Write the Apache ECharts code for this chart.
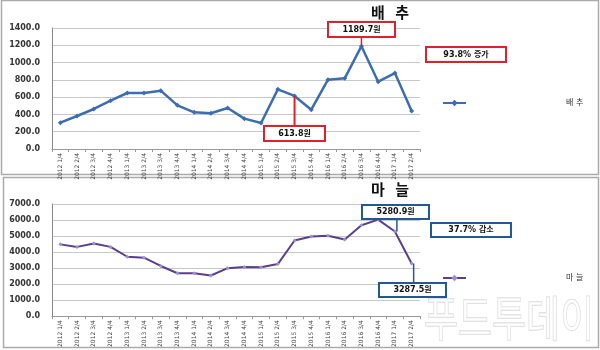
<!DOCTYPE html>
<html><head><meta charset="utf-8">
<script src="https://cdn.jsdelivr.net/npm/echarts@6/dist/echarts.min.js"></script>
<style>html,body{margin:0;padding:0;background:#fff}#c{width:600px;height:350px}</style>
</head><body><div id="c"></div>
<script>
const categories = ['2012 1/4','2012 2/4','2012 3/4','2012 4/4','2013 1/4','2013 2/4','2013 3/4','2013 4/4','2014 1/4','2014 2/4','2014 3/4','2014 4/4','2015 1/4','2015 2/4','2015 3/4','2015 4/4','2016 1/4','2016 2/4','2016 3/4','2016 4/4','2017 1/4','2017 2/4'];
const cabbage = [305,382,463,559,648,648,675,505,424,413,474,351,301,690,613.8,455,802,818,1189.7,779,879,440];
const garlic = [4481,4323,4541,4323,3708,3649,3133,2677,2677,2538,2994,3073,3054,3252,4720,4977,5017,4779,5671,6028,5280.9,3287.5];
const cabbageTicks = {min:0,max:1400,interval:200};
const garlicTicks = {min:0,max:7000,interval:1000};

const chart = echarts.init(document.getElementById('c'));
const FONT = '"DejaVu Sans", "Noto Sans CJK KR", sans-serif';
function xAxis(i){return {type:'category',gridIndex:i,data:categories,boundaryGap:true,
  axisLine:{lineStyle:{color:'#999',width:1}},axisTick:{show:true,lineStyle:{color:'#999'},length:3},
  axisLabel:{rotate:90,fontSize:6,color:'#444',fontFamily:FONT,margin:4,interval:0}};}
function yAxis(i,t){return {type:'value',gridIndex:i,min:t.min,max:t.max,interval:t.interval,
  axisLine:{show:true,lineStyle:{color:'#888'}},axisTick:{show:false},
  splitLine:{lineStyle:{color:'#c8c8c8',width:1.2}},
  axisLabel:{formatter:v=>v.toFixed(1),fontSize:8,fontWeight:'bold',color:'#333',fontFamily:FONT,margin:12}};}
chart.setOption({
  animation:false,
  textStyle:{fontFamily:FONT},
  grid:[{left:52,right:180,top:28,height:121},{left:52,right:180,top:204,height:118}],
  xAxis:[xAxis(0),xAxis(1)],
  yAxis:[yAxis(0,cabbageTicks),yAxis(1,garlicTicks)],
  legend:[
    {data:['배 추'],left:437,top:94,itemWidth:23,itemHeight:8,
     textStyle:{fontSize:8,color:'#333',padding:[0,0,0,95]}},
    {data:['마 늘'],left:437,top:269,itemWidth:23,itemHeight:8,
     textStyle:{fontSize:8,color:'#333',padding:[0,0,0,95]}}],
  series:[
    {name:'배 추',type:'line',xAxisIndex:0,yAxisIndex:0,data:cabbage,symbol:'diamond',symbolSize:5,
     lineStyle:{color:'#3d6db0',width:2.5},itemStyle:{color:'#3d6db0'}},
    {name:'마 늘',type:'line',xAxisIndex:1,yAxisIndex:1,data:garlic,symbol:'diamond',symbolSize:4,
     lineStyle:{color:'#5a3f8e',width:2},itemStyle:{color:'#9c8fd2'}}
  ]
});
function px(g,i,v){return chart.convertToPixel({gridIndex:g},[i,v]);}
const p1 = px(0,18,cabbage[18]), p2 = px(0,14,cabbage[14]);
const p3 = px(1,20,garlic[20]), p4 = px(1,21,garlic[21]);
function box(x,y,w,h,txt,col){return [{type:'rect',shape:{x,y,width:w,height:h},style:{fill:'#fff',stroke:col,lineWidth:2},z:10},
  {type:'text',x:x+w/2,y:y+h/2,style:{text:txt,fill:'#111',font:'bold 8px '+FONT,align:'center',verticalAlign:'middle'},z:11}];}
const RED='#e0202a', BLUE='#1f5a94';
chart.setOption({graphic:[
  {type:'rect',shape:{x:1.5,y:0.5,width:597,height:174},style:{fill:'none',stroke:'#aaa',lineWidth:1.5},z:0},
  {type:'rect',shape:{x:3.5,y:177.5,width:595,height:170},style:{fill:'none',stroke:'#aaa',lineWidth:1.5},z:0},
  {type:'text',x:390,y:14,style:{text:'배  추',fill:'#111',font:'bold 15px '+FONT,align:'center',verticalAlign:'middle'}},
  {type:'text',x:390,y:191,style:{text:'마  늘',fill:'#111',font:'bold 15px '+FONT,align:'center',verticalAlign:'middle'}},
  {type:'line',shape:{x1:p1[0],y1:37,x2:p1[0],y2:p1[1]},style:{stroke:RED,lineWidth:1.5},z:9},
  {type:'line',shape:{x1:p2[0],y1:p2[1],x2:p2[0],y2:126},style:{stroke:RED,lineWidth:2},z:9},
  {type:'line',shape:{x1:p3[0]+2,y1:219,x2:p3[0]+2,y2:p3[1]},style:{stroke:BLUE,lineWidth:1.5},z:9},
  {type:'line',shape:{x1:p4[0]+2,y1:p4[1],x2:p4[0]+2,y2:282},style:{stroke:BLUE,lineWidth:1.5},z:9},
  ...box(328,22,67,15,'1189.7원',RED),
  ...box(426,47,80,15,'93.8% 증가',RED),
  ...box(264,126,61,15,'613.8원',RED),
  ...box(362,205,67,14,'5280.9원',BLUE),
  ...box(431,223,80,14,'37.7% 감소',BLUE),
  ...box(379,283,67,14,'3287.5원',BLUE),
  {type:'text',x:424,y:318,scaleY:1.3,style:{text:'푸드투데이',fill:'rgba(255,255,255,0.6)',stroke:'#dcdcdc',lineWidth:1,font:'37px "Noto Sans CJK KR"',verticalAlign:'middle'},z:20}
]});
</script></body></html>
